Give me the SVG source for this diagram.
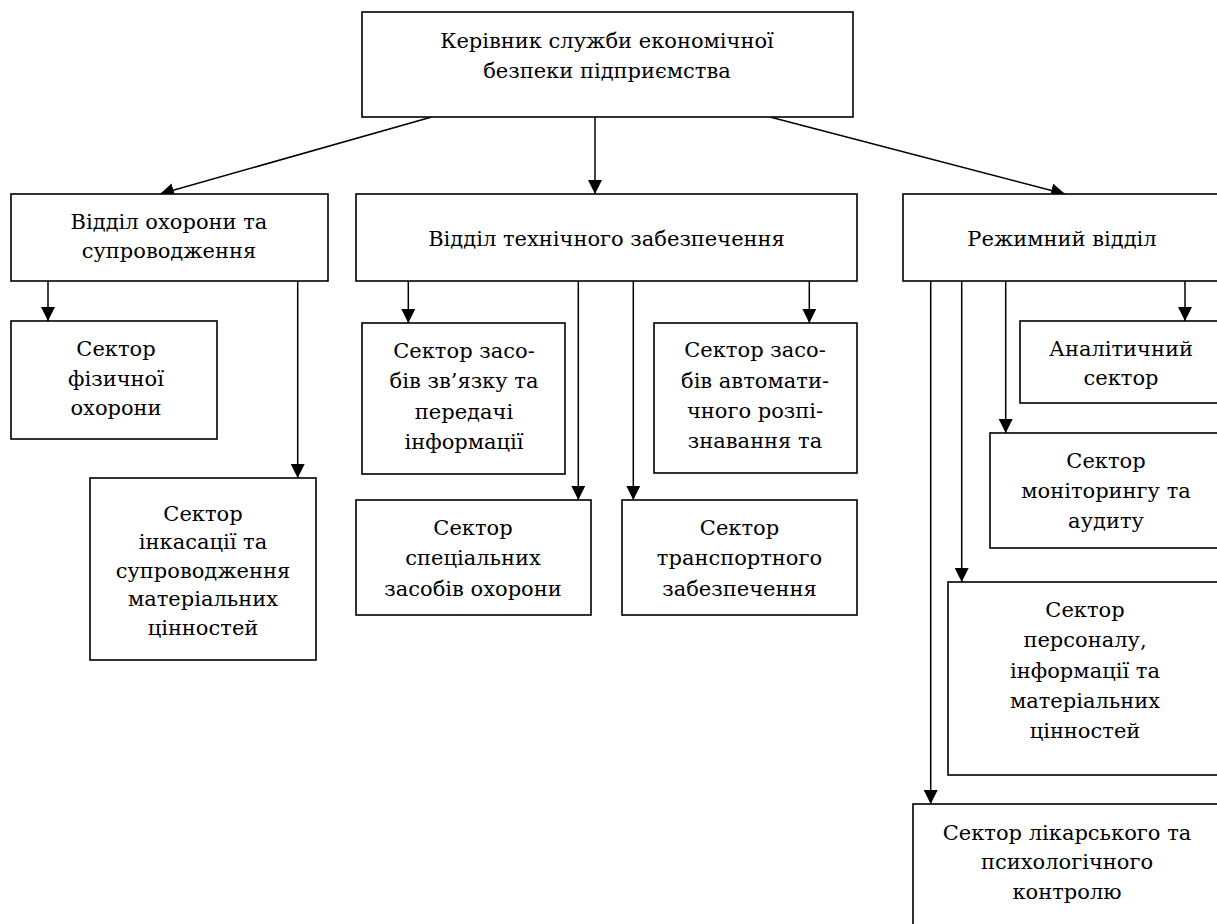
<svg xmlns="http://www.w3.org/2000/svg" width="1217" height="924" viewBox="0 0 1217 924">
<style>
rect.box{fill:#fff;stroke:#000;stroke-width:1.6}
text{font-family:'DejaVu Serif','Liberation Serif',serif;font-size:21px;fill:#000;text-anchor:middle}
.conn line{stroke:#000;stroke-width:1.5;marker-end:url(#arr)}
</style>
<defs>
<marker id="arr" markerUnits="userSpaceOnUse" markerWidth="14" markerHeight="16" viewBox="0 0 14 16" refX="14" refY="7" orient="auto">
<path d="M0,0 L14,7 L0,14 Z" fill="#000"/>
</marker>
</defs>
<rect width="1217" height="924" fill="#fff"/>
<g class="conn" id="connectors">
<line x1="431.7" y1="117" x2="160" y2="194"/>
<line x1="595" y1="117" x2="595" y2="194"/>
<line x1="770" y1="117" x2="1065" y2="194"/>
<line x1="48" y1="281" x2="48" y2="321"/>
<line x1="297.7" y1="281" x2="297.7" y2="478"/>
<line x1="408.3" y1="281" x2="408.3" y2="323"/>
<line x1="578.3" y1="281" x2="578.3" y2="500"/>
<line x1="633.3" y1="281" x2="633.3" y2="500"/>
<line x1="809.3" y1="281" x2="809.3" y2="323"/>
<line x1="1185" y1="281" x2="1185" y2="321"/>
<line x1="1005.7" y1="281" x2="1005.7" y2="433"/>
<line x1="961.7" y1="281" x2="961.7" y2="582"/>
<line x1="930.7" y1="281" x2="930.7" y2="804"/>
</g>
<g id="head">
<rect class="box" x="362" y="12" width="491" height="105"/>
<text x="607" y="48">Керівник служби економічної</text>
<text x="607" y="77.5">безпеки підприємства</text>
</g>
<g id="okhorona">
<rect class="box" x="11" y="194" width="317" height="87"/>
<text x="169" y="229">Відділ охорони та</text>
<text x="169" y="257.5">супроводження</text>
</g>
<g id="tekhnichne">
<rect class="box" x="356" y="194" width="501" height="87"/>
<text x="606.5" y="246">Відділ технічного забезпечення</text>
</g>
<g id="rezhymnyi">
<rect class="box" x="903" y="194" width="320" height="87"/>
<text x="1062" y="246">Режимний відділ</text>
</g>
<g id="fizychna">
<rect class="box" x="11" y="321" width="206" height="118"/>
<text x="116" y="356">Сектор</text>
<text x="116" y="385.5">фізичної</text>
<text x="116" y="415">охорони</text>
</g>
<g id="inkasatsiia">
<rect class="box" x="90" y="478" width="226" height="182"/>
<text x="203" y="521">Сектор</text>
<text x="203" y="549">інкасації та</text>
<text x="203" y="577.5">супроводження</text>
<text x="203" y="606">матеріальних</text>
<text x="203" y="635">цінностей</text>
</g>
<g id="zviazok">
<rect class="box" x="362" y="323" width="203" height="151"/>
<text x="464" y="358">Сектор засо-</text>
<text x="464" y="388">бів зв’язку та</text>
<text x="464" y="419">передачі</text>
<text x="464" y="449">інформації</text>
</g>
<g id="avtomat">
<rect class="box" x="654" y="323" width="203" height="150"/>
<text x="755" y="357">Сектор засо-</text>
<text x="755" y="388">бів автомати-</text>
<text x="755" y="418">чного розпі-</text>
<text x="755" y="448">знавання та</text>
</g>
<g id="spetsialni">
<rect class="box" x="356" y="500" width="235" height="115"/>
<text x="473" y="535">Сектор</text>
<text x="473" y="565">спеціальних</text>
<text x="473" y="596">засобів охорони</text>
</g>
<g id="transport">
<rect class="box" x="622" y="500" width="235" height="115"/>
<text x="739.5" y="535">Сектор</text>
<text x="739.5" y="565">транспортного</text>
<text x="739.5" y="596">забезпечення</text>
</g>
<g id="analitychnyi">
<rect class="box" x="1020" y="321" width="202" height="82"/>
<text x="1121" y="356">Аналітичний</text>
<text x="1121" y="385">сектор</text>
</g>
<g id="monitoring">
<rect class="box" x="990" y="433" width="232" height="115"/>
<text x="1106" y="468">Сектор</text>
<text x="1106" y="498">моніторингу та</text>
<text x="1106" y="528">аудиту</text>
</g>
<g id="personal">
<rect class="box" x="948" y="582" width="274" height="193"/>
<text x="1085" y="617">Сектор</text>
<text x="1085" y="647">персоналу,</text>
<text x="1085" y="678">інформації та</text>
<text x="1085" y="708">матеріальних</text>
<text x="1085" y="738">цінностей</text>
</g>
<g id="likarskyi">
<rect class="box" x="913" y="804" width="308" height="140"/>
<text x="1067" y="840">Сектор лікарського та</text>
<text x="1067" y="869">психологічного</text>
<text x="1067" y="898.5">контролю</text>
</g>
</svg>
